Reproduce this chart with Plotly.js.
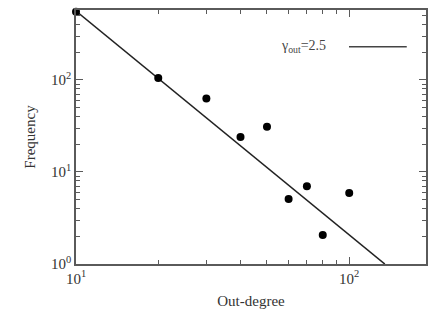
<!DOCTYPE html>
<html><head><meta charset="utf-8">
<script src="https://cdn.plot.ly/plotly-3.0.1.min.js"></script>
<style>body{margin:0;background:#fff}#c{width:428px;height:322px}</style>
</head><body><div id="c"></div>
<script>
var outDegree = [10, 20, 30, 40, 50, 60, 70, 80, 100];
var frequency = [550, 105, 63, 24, 31, 5.1, 7.0, 2.07, 5.9];
var fitX = [10, 135];
var fitY = [560, 1];
var fitLabel = "γ<sub>out</sub>=2.5";
var xTickVals = [10, 100];
var xTickText = ["10<sup>1</sup>", "10<sup>2</sup>"];
var yTickVals = [1, 10, 100];
var yTickText = ["10<sup>0</sup>", "10<sup>1</sup>", "10<sup>2</sup>"];
var xMinor = [20, 30, 40, 50, 60, 70, 80, 90];
var yMinor = [2, 3, 4, 5, 6, 7, 8, 9, 20, 30, 40, 50, 60, 70, 80, 90, 200, 300, 400, 500];

var xRange = [1, 2.281];
var yRange = [0, 2.76];
var serif = "Liberation Serif, serif";
var lineCol = "#5a5a5a";

var traces = [
  {x: fitX, y: fitY, mode: "lines", line: {color: "#222", width: 1.6}, showlegend: false, hoverinfo: "skip"},
  {x: outDegree, y: frequency, mode: "markers", marker: {color: "#000", size: 8}, showlegend: false, cliponaxis: false},
  {x: [1], y: [1], xaxis: "x2", yaxis: "y2", mode: "markers", marker: {opacity: 0}, showlegend: false, hoverinfo: "skip"}
];
function mainAxis(extra) {
  return Object.assign({
    type: "log", showline: true, linecolor: lineCol, linewidth: 1.5, mirror: "ticks",
    ticks: "inside", ticklen: 7, tickcolor: lineCol, tickwidth: 1.3, showgrid: false, zeroline: false,
    tickmode: "array", tickfont: {family: serif, size: 15, color: "#333"}
  }, extra);
}
function minorAxis(extra) {
  return Object.assign({
    type: "log", showline: false, mirror: "ticks", ticks: "inside", ticklen: 4, tickcolor: lineCol, tickwidth: 1.2,
    showgrid: false, zeroline: false, showticklabels: false, tickmode: "array"
  }, extra);
}
var layout = {
  width: 428, height: 322,
  margin: {l: 76, r: 2, t: 10, b: 58},
  paper_bgcolor: "#fff", plot_bgcolor: "rgba(0,0,0,0)",
  font: {family: serif, color: "#333", size: 15},
  xaxis: mainAxis({
    range: xRange, tickvals: xTickVals, ticktext: xTickText,
    title: {text: "Out-degree", font: {family: serif, size: 15, color: "#333"}, standoff: 10}
  }),
  yaxis: mainAxis({
    range: yRange, tickvals: yTickVals, ticktext: yTickText,
    title: {text: "Frequency", font: {family: serif, size: 15, color: "#333"}, standoff: 12}
  }),
  xaxis2: minorAxis({range: xRange, tickvals: xMinor, overlaying: "x", side: "bottom", anchor: "y2"}),
  yaxis2: minorAxis({range: yRange, tickvals: yMinor, overlaying: "y", side: "left", anchor: "x2"}),
  annotations: [{
    xref: "paper", yref: "paper", x: 0.58, y: 0.855, xanchor: "left", yanchor: "middle",
    text: fitLabel, showarrow: false, font: {family: serif, size: 14, color: "#444"}
  }],
  shapes: [{type: "line", xref: "paper", yref: "paper", x0: 0.78, x1: 0.945, y0: 0.855, y1: 0.855,
    line: {color: "#444", width: 1.5}}]
};
Plotly.newPlot("c", traces, layout, {displayModeBar: false});
</script></body></html>
